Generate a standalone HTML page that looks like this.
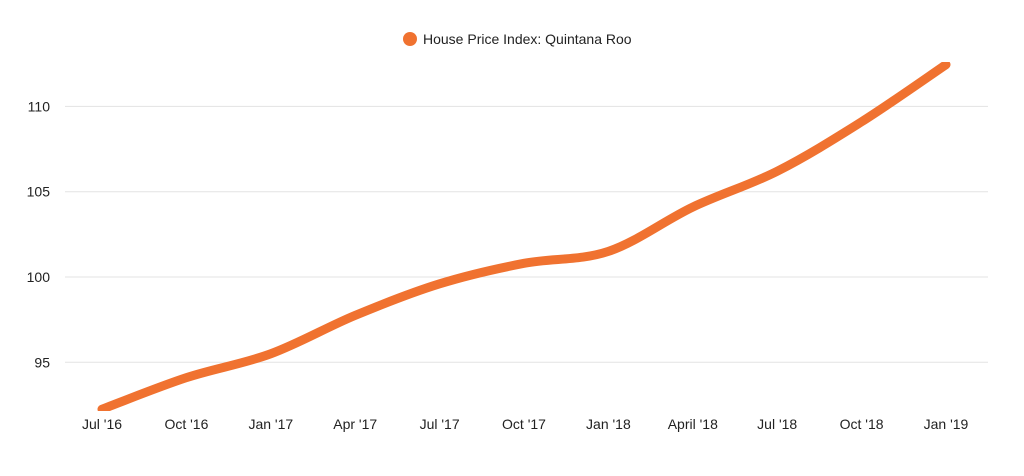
<!DOCTYPE html>
<html><head><meta charset="utf-8"><style>
body{margin:0;background:#fff;font-family:"Liberation Sans",sans-serif;}
svg{display:block}
text{font-family:"Liberation Sans",sans-serif;fill:#222;font-size:14px}
</style></head><body>
<svg id="chart" width="1024" height="476" viewBox="0 0 1024 476">
<defs><clipPath id="plot"><rect x="60" y="62" width="940" height="349"/></clipPath></defs>
<g id="legend">
<circle cx="410" cy="39" r="7" fill="#f07230"/>
<text x="423" y="44">House Price Index: Quintana Roo</text>
</g>
<g id="grid"></g><g id="yticks"></g><g id="xticks"></g>
<g clip-path="url(#plot)"><path id="line" fill="none" stroke="#f07230" stroke-width="9" stroke-linecap="round" stroke-linejoin="round"/></g>
</svg>
<script>
const categories=["Jul '16","Oct '16","Jan '17","Apr '17","Jul '17","Oct '17","Jan '18","April '18","Jul '18","Oct '18","Jan '19"];
const values=[92.25,94.1,95.5,97.75,99.6,100.8,101.5,104.1,106.2,109.1,112.45];
const yTicks=[95,100,105,110];
const ns="http://www.w3.org/2000/svg";
function xPos(i){return 102+i*84.4;}
function yPos(v){return 277-(v-100)*17.06;}
const grid=document.getElementById('grid'),yt=document.getElementById('yticks'),xt=document.getElementById('xticks');
yTicks.forEach(t=>{
 const l=document.createElementNS(ns,'line');
 
 
 l.setAttribute('x1',65);l.setAttribute('x2',988);l.setAttribute('y1',yPos(t));l.setAttribute('y2',yPos(t));
 l.setAttribute('stroke','#e3e3e3');l.setAttribute('stroke-width','1');grid.appendChild(l);
 const tx=document.createElementNS(ns,'text');
 
 
 tx.setAttribute('x',50);tx.setAttribute('y',yPos(t)+5);tx.setAttribute('text-anchor','end');tx.textContent=t;yt.appendChild(tx);
});
categories.forEach((c,i)=>{
 const tx=document.createElementNS(ns,'text');
 
 
 tx.setAttribute('x',xPos(i));tx.setAttribute('y',429);tx.setAttribute('text-anchor','middle');tx.textContent=c;xt.appendChild(tx);
});
const pts=values.map((v,i)=>[xPos(i),yPos(v)]);
let d='M'+pts[0][0]+','+pts[0][1];
for(let i=0;i<pts.length-1;i++){
 const p0=pts[Math.max(0,i-1)],p1=pts[i],p2=pts[i+1],p3=pts[Math.min(pts.length-1,i+2)];
 const c1=[p1[0]+(p2[0]-p0[0])/6,p1[1]+(p2[1]-p0[1])/6];
 const c2=[p2[0]-(p3[0]-p1[0])/6,p2[1]-(p3[1]-p1[1])/6];
 d+=` C${c1[0]},${c1[1]} ${c2[0]},${c2[1]} ${p2[0]},${p2[1]}`;
}
document.getElementById('line').setAttribute('d',d);
</script>
</body></html>
